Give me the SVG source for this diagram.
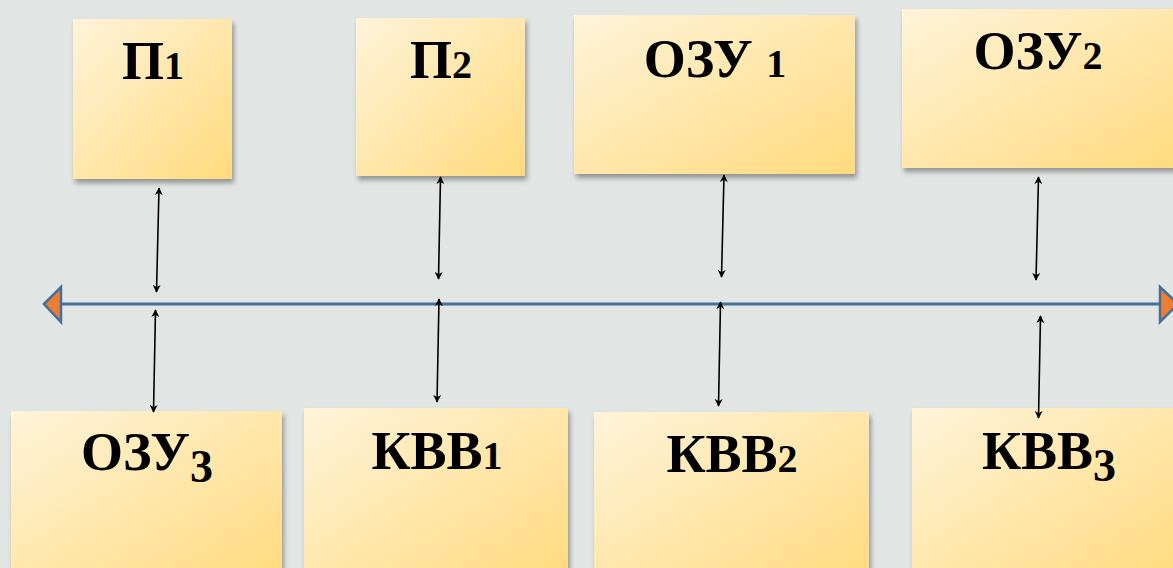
<svg xmlns="http://www.w3.org/2000/svg" width="1173" height="568" viewBox="0 0 1173 568">
  <style>
    .box { fill: url(#boxFill); filter: url(#shadow); }
    .lbl { font-family: "Liberation Serif", "DejaVu Serif", serif; font-weight: bold; font-size: 54px; fill: #000; text-anchor: middle; }
    .num { font-size: 40px; }
    .num3 { font-size: 46px; }
    .link { stroke: #000; stroke-width: 1.6; fill: none; marker-start: url(#tip); marker-end: url(#tip); }
    .bus { stroke: #41719C; stroke-width: 3; fill: none; }
    .busEnd { fill: #ED7D31; stroke: #41719C; stroke-width: 2.5; stroke-linejoin: miter; }
  </style>
  <defs>
    <linearGradient id="boxFill" x1="0" y1="0" x2="1" y2="1">
      <stop offset="0" stop-color="#FFF3DA"/>
      <stop offset="1" stop-color="#FFDB7E"/>
    </linearGradient>
    <filter id="shadow" x="-10%" y="-10%" width="125%" height="130%">
      <feDropShadow dx="2" dy="4" stdDeviation="2.5" flood-color="#000" flood-opacity="0.35"/>
    </filter>
    <marker id="tip" viewBox="0 0 10 10" refX="9" refY="5" markerWidth="9" markerHeight="8" markerUnits="userSpaceOnUse" orient="auto-start-reverse">
      <path d="M0,0 L10,5 L0,10 L3,5 Z" fill="#000"/>
    </marker>
  </defs>

  <!-- background -->
  <rect x="0" y="0" width="1173" height="568" fill="#E1E5E4"/>

  <!-- top row -->
  <g id="p1">
    <rect class="box" x="73" y="19" width="159" height="160"/>
    <text class="lbl" x="153" y="79">П<tspan class="num">1</tspan></text>
  </g>
  <g id="p2">
    <rect class="box" x="356" y="18" width="169" height="158"/>
    <text class="lbl" x="441" y="78">П<tspan class="num">2</tspan></text>
  </g>
  <g id="ozu1">
    <rect class="box" x="574" y="15" width="281" height="159"/>
    <text class="lbl" x="715" y="77">ОЗУ <tspan class="num">1</tspan></text>
  </g>
  <g id="ozu2">
    <rect class="box" x="902" y="9" width="276" height="159"/>
    <text class="lbl" x="1038" y="69">ОЗУ<tspan class="num">2</tspan></text>
  </g>

  <!-- bottom row -->
  <g id="ozu3">
    <rect class="box" x="11" y="411" width="271" height="170"/>
    <text class="lbl" x="147" y="470">ОЗУ<tspan class="num3" dy="12">3</tspan></text>
  </g>
  <g id="kvv1">
    <rect class="box" x="304" y="408" width="264" height="170"/>
    <text class="lbl" x="437" y="469">КВВ<tspan class="num">1</tspan></text>
  </g>
  <g id="kvv2">
    <rect class="box" x="594" y="412" width="275" height="170"/>
    <text class="lbl" x="732" y="472">КВВ<tspan class="num">2</tspan></text>
  </g>
  <g id="kvv3">
    <rect class="box" x="912" y="408" width="266" height="170"/>
    <text class="lbl" x="1049" y="469">КВВ<tspan class="num3" dy="12">3</tspan></text>
  </g>

  <!-- bus and links -->
  <g id="connectors">
    <line class="bus" x1="60" y1="304" x2="1161" y2="304"/>
    <polygon class="busEnd" points="44,304 61,287 61,322"/>
    <polygon class="busEnd" points="1160,287 1178,304 1160,322"/>

    <line class="link" x1="159" y1="188" x2="156.5" y2="292"/>
    <line class="link" x1="155.5" y1="310" x2="153.5" y2="412"/>
    <line class="link" x1="440.5" y1="177" x2="438.5" y2="279"/>
    <line class="link" x1="439" y1="299" x2="437" y2="402"/>
    <line class="link" x1="724" y1="175" x2="721.5" y2="277"/>
    <line class="link" x1="720.5" y1="302" x2="718.5" y2="406"/>
    <line class="link" x1="1038.5" y1="177" x2="1036" y2="280"/>
    <line class="link" x1="1040.5" y1="316" x2="1038.5" y2="418"/>
  </g>
</svg>
